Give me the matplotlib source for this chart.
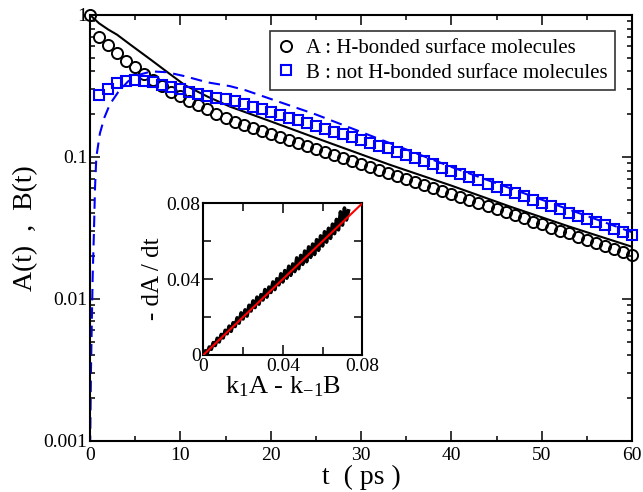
import matplotlib
matplotlib.use("Agg")
import matplotlib.pyplot as plt
import matplotlib.ticker as mticker

plt.rcParams["font.family"] = ["Liberation Serif", "DejaVu Serif"]
plt.rcParams["mathtext.fontset"] = "custom"
plt.rcParams["mathtext.rm"] = "Liberation Serif"
plt.rcParams["mathtext.it"] = "Liberation Serif:italic"

# ---- main panel: simulation points ----
t_A = list(range(0, 61))
A_sim = [1.0, 0.70, 0.615, 0.543, 0.477, 0.428, 0.384, 0.348, 0.316, 0.288,
         0.269, 0.249, 0.232, 0.217, 0.201, 0.187, 0.177, 0.169, 0.161, 0.153,
         0.146, 0.139, 0.132, 0.126, 0.120, 0.114, 0.109, 0.103, 0.0984, 0.0937,
         0.0892, 0.0850, 0.0809, 0.0770, 0.0733, 0.0698, 0.0665, 0.0633, 0.0603, 0.0574,
         0.0546, 0.0520, 0.0495, 0.0472, 0.0449, 0.0428, 0.0407, 0.0388, 0.0369, 0.0351,
         0.0335, 0.0318, 0.0303, 0.0289, 0.0275, 0.0262, 0.0249, 0.0237, 0.0226, 0.0215,
         0.0205]

t_B = list(range(1, 61))
B_sim = [0.273, 0.300, 0.330, 0.343, 0.347, 0.344, 0.335, 0.322, 0.310, 0.299,
         0.288, 0.278, 0.268, 0.262, 0.255, 0.248, 0.237, 0.226, 0.216, 0.207,
         0.198, 0.189, 0.181, 0.173, 0.165, 0.158, 0.151, 0.144, 0.138, 0.132,
         0.126, 0.120, 0.115, 0.109, 0.104, 0.0983, 0.0933, 0.0886, 0.0841, 0.0798,
         0.0758, 0.0719, 0.0683, 0.0648, 0.0616, 0.0584, 0.0555, 0.0527, 0.0500, 0.0475,
         0.0451, 0.0428, 0.0406, 0.0386, 0.0366, 0.0348, 0.0330, 0.0313, 0.0297, 0.0282]

# ---- main panel: kinetic model curves ----
t_Afit = [0, 1, 2, 3, 4.5, 6.8, 8.5, 10.5, 13, 15.5, 20, 25, 33.2, 40, 46.5, 53, 60]
A_fit = [1.0, 0.873, 0.79, 0.725, 0.615, 0.48, 0.398, 0.32, 0.266, 0.226,
         0.178, 0.136, 0.088, 0.0628, 0.0447, 0.0324, 0.0233]

t_Bfit = [0.0, 0.02, 0.1, 0.2, 0.3, 0.43, 0.55, 0.7, 1.1, 1.6, 2.2, 3.1, 4.2,
          5.5, 6.8, 8.5, 10.5, 13, 15.5, 17.2, 20, 25, 33.2, 40, 50, 60]
B_fit = [0.0005, 0.001, 0.003, 0.007, 0.015, 0.029, 0.06, 0.1, 0.147, 0.19,
         0.235, 0.285, 0.34, 0.38, 0.40, 0.395, 0.37, 0.335, 0.315, 0.295,
         0.256, 0.199, 0.125, 0.085, 0.050, 0.0295]

# ---- inset: -dA/dt vs k1A - k-1B ----
rate_x = [0.000, 0.001, 0.002, 0.003, 0.004, 0.005, 0.006, 0.007, 0.008, 0.009,
          0.010, 0.011, 0.012, 0.013, 0.014, 0.015, 0.016, 0.017, 0.018, 0.019,
          0.020, 0.021, 0.022, 0.023, 0.024, 0.025, 0.026, 0.027, 0.028, 0.029,
          0.030, 0.031, 0.032, 0.033, 0.034, 0.035, 0.036, 0.037, 0.038, 0.039,
          0.040, 0.041, 0.042, 0.043, 0.044, 0.045, 0.046, 0.047, 0.048, 0.049,
          0.050, 0.051, 0.052, 0.053, 0.054, 0.055, 0.056, 0.057, 0.058, 0.059,
          0.060, 0.061, 0.062, 0.063, 0.064, 0.065, 0.066, 0.067, 0.068, 0.069,
          0.070, 0.071, 0.072, 0.073]
rate_y = [0.0003, 0.0022, 0.0010, 0.0042, 0.0030, 0.0065, 0.0050, 0.0088, 0.0069, 0.0108,
          0.0090, 0.0130, 0.0112, 0.0152, 0.0125, 0.0170, 0.0150, 0.0196, 0.0168, 0.0222,
          0.0190, 0.0238, 0.0205, 0.0262, 0.0232, 0.0285, 0.0250, 0.0305, 0.0268, 0.0318,
          0.0290, 0.0345, 0.0305, 0.0358, 0.0330, 0.0385, 0.0345, 0.0402, 0.0370, 0.0428,
          0.0385, 0.0445, 0.0405, 0.0468, 0.0420, 0.0480, 0.0440, 0.0512, 0.0455, 0.0525,
          0.0478, 0.0548, 0.0492, 0.0570, 0.0515, 0.0585, 0.0530, 0.0608, 0.0552, 0.0628,
          0.0575, 0.0650, 0.0595, 0.0668, 0.0615, 0.0690, 0.0640, 0.0715, 0.0660, 0.0755,
          0.0685, 0.0775, 0.0712, 0.0760]
line_x = [0.0, 0.08]
line_y = [0.0, 0.08]

fig = plt.figure(figsize=(6.43, 4.92), dpi=100)
ax = fig.add_axes([0.140, 0.1037, 0.843, 0.866])

ax.plot(t_Afit, A_fit, color="black", lw=1.5, zorder=2)
ax.plot(t_Bfit, B_fit, color="#0000ff", lw=1.5, dashes=(5.5, 3.3), zorder=2)
ax.plot(t_A, A_sim, ls="none", marker="o", ms=8, mfc="none", mec="black", mew=1.4,
        clip_on=False, zorder=3, label="A : H-bonded surface molecules")
ax.plot(t_B, B_sim, ls="none", marker="s", ms=7.3, mfc="none", mec="#0000ff", mew=1.5,
        clip_on=False, zorder=3, label="B : not H-bonded surface molecules")

ax.set_yscale("log")
ax.set_xlim(0, 60)
ax.set_ylim(0.001, 1)
ax.xaxis.set_major_locator(mticker.MultipleLocator(10))
ax.xaxis.set_minor_locator(mticker.MultipleLocator(5))
ax.yaxis.set_major_locator(mticker.FixedLocator([0.001, 0.01, 0.1, 1]))
ax.yaxis.set_major_formatter(mticker.FuncFormatter(lambda v, p: f"{v:g}"))
ax.yaxis.set_minor_locator(mticker.LogLocator(base=10, subs=range(2, 10)))
ax.yaxis.set_minor_formatter(mticker.NullFormatter())
ax.tick_params(which="both", direction="in", top=True, right=True, width=1.1, labelsize=14)
ax.tick_params(which="major", length=7.5, pad=4)
ax.tick_params(which="minor", length=3.8)
ax.tick_params(axis="y", which="major", pad=2)
for s in ax.spines.values():
    s.set_linewidth(1.5)

ax.set_xlabel("t  ( ps )", fontsize=20, labelpad=1)
ax.set_ylabel("A(t)  ,  B(t)", fontsize=20, labelpad=4)

leg = ax.legend(loc="upper right", bbox_to_anchor=(0.9686, 0.9624), borderaxespad=0,
                fontsize=15, frameon=True, fancybox=False, handlelength=0.9,
                handletextpad=0.5, borderpad=0.35, labelspacing=0.25)
leg.get_frame().set_edgecolor("black")
leg.get_frame().set_linewidth(1.2)

# ---- inset ----
ins = fig.add_axes([0.3162, 0.2785, 0.2473, 0.3083])
ins.plot(rate_x, rate_y, color="black", lw=2.6, zorder=2)
ins.plot(line_x, line_y, color="red", lw=1.5, zorder=3)
ins.set_xlim(0, 0.08)
ins.set_ylim(0, 0.08)
ins.xaxis.set_major_locator(mticker.FixedLocator([0, 0.04, 0.08]))
ins.yaxis.set_major_locator(mticker.FixedLocator([0, 0.04, 0.08]))
ins.xaxis.set_minor_locator(mticker.FixedLocator([0.02, 0.06]))
ins.yaxis.set_minor_locator(mticker.FixedLocator([0.02, 0.06]))
ins.xaxis.set_major_formatter(mticker.FuncFormatter(lambda v, p: f"{v:g}"))
ins.yaxis.set_major_formatter(mticker.FuncFormatter(lambda v, p: f"{v:g}"))
ins.tick_params(which="both", direction="in", top=True, right=True, width=1.1, labelsize=14)
ins.tick_params(which="major", length=7.5, pad=2)
ins.tick_params(which="minor", length=5.5)
for s in ins.spines.values():
    s.set_linewidth(1.5)
ins.set_xlabel(r"k$_1$A - k$_{-1}$B", fontsize=19, labelpad=0)
ins.set_ylabel("- dA / dt", fontsize=18, labelpad=2)

fig.savefig("out.png", dpi=100)
